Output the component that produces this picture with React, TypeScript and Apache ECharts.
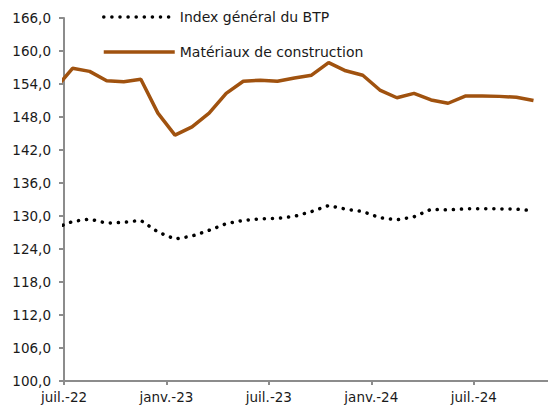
import React, { useEffect, useRef } from "react";
import * as echarts from "echarts";

// Months (first one, June 2022, lies before the axis start and is clipped)
const months: string[] = [
  "2022-06", "2022-07", "2022-08", "2022-09", "2022-10", "2022-11", "2022-12",
  "2023-01", "2023-02", "2023-03", "2023-04", "2023-05", "2023-06", "2023-07",
  "2023-08", "2023-09", "2023-10", "2023-11", "2023-12", "2024-01", "2024-02",
  "2024-03", "2024-04", "2024-05", "2024-06", "2024-07", "2024-08", "2024-09",
  "2024-10",
];

const indexBTP: number[] = [
  127.8, 129.0, 129.45, 128.7, 128.85, 129.2, 127.1, 125.8, 126.35, 127.4,
  128.6, 129.2, 129.5, 129.55, 129.95, 130.8, 131.9, 131.25, 130.8, 129.7,
  129.3, 129.85, 131.2, 131.1, 131.3, 131.3, 131.3, 131.25, 130.95,
];

const materiaux: number[] = [
  153.2, 156.85, 156.3, 154.6, 154.4, 154.85, 148.7, 144.7, 146.2, 148.7,
  152.3, 154.5, 154.7, 154.5, 155.1, 155.6, 157.9, 156.4, 155.6, 152.9,
  151.5, 152.3, 151.1, 150.5, 151.8, 151.8, 151.75, 151.6, 151.0,
];

const xTickMonths: string[] = ["2022-07", "2023-01", "2023-07", "2024-01", "2024-07"];
const xTickLabels: string[] = ["juil.-22", "janv.-23", "juil.-23", "janv.-24", "juil.-24"];

const seriesNames: string[] = ["Index général du BTP", "Matériaux de construction"];

const FONT = "'DejaVu Sans', sans-serif";

const monthNum = (m: string) => {
  const [y, mo] = m.split("-").map(Number);
  return y * 12 + (mo - 1);
};
const base = monthNum("2022-07");
// points are plotted at mid-month
const xOf = (m: string) => monthNum(m) - base + 0.5;
const tickX = xTickMonths.map((m) => monthNum(m) - base);

export default function App() {
  const ref = useRef<HTMLDivElement>(null);
  useEffect(() => {
    document.body.style.margin = "0";
    if (!ref.current) return;
    const chart = echarts.init(ref.current, undefined, { renderer: "svg" });
    const axisColor = "#8c8c8c";
    chart.setOption({
      animation: false,
      backgroundColor: "#ffffff",
      grid: { left: 64, right: 0, top: 18, bottom: 29 },
      legend: {
        orient: "vertical",
        left: 97,
        top: 5,
        itemWidth: 71,
        itemHeight: 14,
        itemGap: 21,
        itemStyle: { opacity: 0 },
        lineStyle: { width: 3.5 },
        textStyle: { fontFamily: FONT, fontSize: 14, color: "#1a1a1a" },
        data: seriesNames,
      },
      xAxis: {
        type: "value",
        min: 0,
        max: 28.35,
        interval: 6,
        splitLine: { show: false },
        axisLine: { show: true, lineStyle: { color: axisColor, width: 2 } },
        axisTick: { show: true, length: 4, customValues: tickX, lineStyle: { color: axisColor, width: 2 } },
        axisLabel: {
          customValues: tickX,
          margin: 9,
          fontFamily: FONT,
          fontSize: 13.5,
          color: "#1a1a1a",
          formatter: (v: number) => {
            const i = tickX.indexOf(Math.round(v));
            return i >= 0 && Math.abs(v - tickX[i]) < 1e-6 ? xTickLabels[i] : "";
          },
        },
      },
      yAxis: {
        type: "value",
        min: 100,
        max: 166,
        interval: 6,
        splitLine: { show: false },
        axisLine: { show: true, lineStyle: { color: axisColor, width: 2 } },
        axisTick: { show: true, length: 5, lineStyle: { color: axisColor, width: 2 } },
        axisLabel: {
          margin: 13,
          fontFamily: FONT,
          fontSize: 13.5,
          color: "#1a1a1a",
          formatter: (v: number) => v.toFixed(1).replace(".", ","),
        },
      },
      series: [
        {
          name: seriesNames[0],
          type: "line",
          symbol: "none",
          clip: true,
          data: months.map((m, i) => [xOf(m), indexBTP[i]]),
          lineStyle: { color: "#000000", width: 3.5, type: [0.1, 8], cap: "round" },
          itemStyle: { color: "#000000" },
        },
        {
          name: seriesNames[1],
          type: "line",
          symbol: "none",
          clip: true,
          data: months.map((m, i) => [xOf(m), materiaux[i]]),
          lineStyle: { color: "#A0520F", width: 3.5 },
          itemStyle: { color: "#A0520F" },
        },
      ],
    });
    return () => chart.dispose();
  }, []);
  return <div ref={ref} style={{ width: 548, height: 410 }} />;
}
